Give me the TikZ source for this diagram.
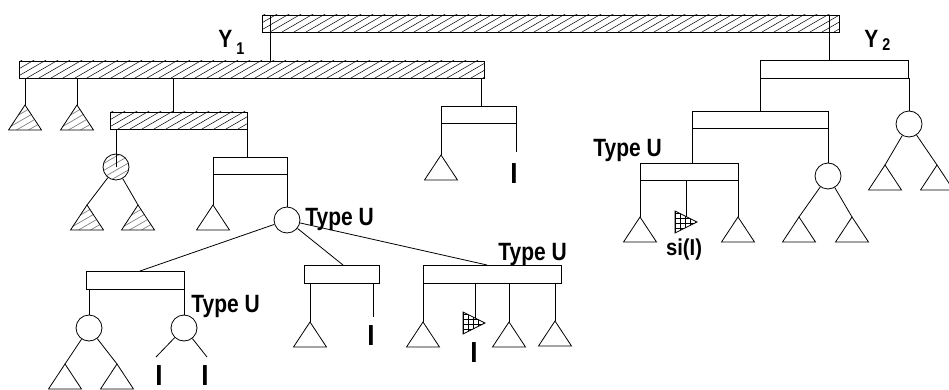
\documentclass[tikz,border=0pt]{standalone}
\usepackage{fontspec}
\setmainfont{Liberation Sans}
\usepackage{graphicx}
\usetikzlibrary{calc}
\newcommand{\tlab}[1]{\scalebox{0.84}[1]{\fontsize{25}{25}\selectfont\bfseries #1}}
\newcommand{\tsub}[1]{\scalebox{0.84}[1]{\fontsize{17}{17}\selectfont\bfseries #1}}
\newcommand{\tI}{\scalebox{0.9}[1]{\fontsize{29}{29}\selectfont\bfseries I}}
\newcommand{\tsi}{\scalebox{0.88}[1]{\fontsize{23}{23}\selectfont\bfseries si(I)}}
\newcommand{\mytri}[4][]{\coordinate (#2) at (#3,#4); \draw[#1] (#2) -- ++(-16.5,25) -- ++(33,0) -- cycle;}
\begin{document}
\begin{tikzpicture}[x=1pt,y=-1pt,line width=0.8pt,
  bx/.style={draw, rectangle, inner sep=0pt, minimum height=17pt},
  circ/.style={draw, circle, inner sep=0pt, minimum size=26pt},
  lbl/.style={inner sep=0pt, anchor=base west},
  ilbl/.style={inner sep=0pt, anchor=base},
  hatchbar/.style={path picture={\foreach \k in {-40,-28,...,600}{\draw[line width=0.5pt] ([xshift=\k pt]path picture bounding box.south west) -- ++(30:60pt);}}},
  hatchtri/.style={path picture={\foreach \k in {-40,-28,...,40}{\draw[line width=0.7pt, gray] ([xshift=\k pt]path picture bounding box.south west) -- ++(30:60pt);}}},
  xhatch/.style={path picture={\foreach \k in {0,5,...,30}{\draw[line width=0.5pt] ([xshift=\k pt]path picture bounding box.south west) -- ++(0pt,40pt); \draw[line width=0.5pt] ([yshift=\k pt]path picture bounding box.south west) -- ++(40pt,0pt);}}}
]
\useasboundingbox (0,0) rectangle (949,390);

% ---- bars and boxes
\node[bx, hatchbar, minimum width=577pt] (T0) at (550.5,23.5) {};
\node[bx, hatchbar, minimum width=465pt] (B1) at (251.5,69.5) {};
\node[bx, hatchbar, minimum width=137pt] (H2) at (178.5,120.5) {};
\node[bx, minimum width=75pt] (P1) at (478.5,114.5) {};
\node[bx, minimum width=74pt] (P2) at (250,165.5) {};
\node[bx, minimum width=98pt, minimum height=18pt] (BL) at (135,280) {};
\node[bx, minimum width=75pt, minimum height=18pt] (BM) at (341.5,274) {};
\node[bx, minimum width=138pt, minimum height=18pt] (BR) at (492,274) {};
\node[bx, minimum width=148pt, minimum height=18pt] (B2) at (834,69) {};
\node[bx, minimum width=136pt] (R2) at (760,119.5) {};
\node[bx, minimum width=98pt] (TU) at (689,171.5) {};

% ---- circles
\node[circ, hatchtri] (HC) at (116,167) {};
\node[circ] (CU1) at (287,220) {};
\node[circ] (C1) at (89,328) {};
\node[circ] (C2) at (184,328) {};
\node[circ] (CR) at (909,124) {};
\node[circ] (CR2) at (828,176) {};

% ---- triangles
\mytri[hatchtri]{ta}{25}{105}
\mytri[hatchtri]{tb}{77}{105}
\mytri[hatchtri]{th1}{87}{205}
\mytri[hatchtri]{th2}{138}{205}
\mytri{tp1}{441}{155}
\mytri{tp2}{213}{205}
\mytri{tc1}{65}{364}
\mytri{tc2}{117}{364}
\mytri{tm1}{310}{322}
\mytri{tr1}{423}{322}
\mytri{tr3}{509}{322}
\mytri{tr4}{555}{321}
\mytri{tu1}{640}{217}
\mytri{tu3}{738}{217}
\mytri{td1}{799}{217}
\mytri{td2}{852}{217}
\mytri{te1}{885}{165}
\mytri{te2}{937}{165}

% ---- crosshatched triangles
\draw[xhatch] (463,312) -- (463,334) -- (485,323) -- cycle;
\coordinate (xr) at (475,318);
\draw[xhatch] (675,211) -- (675,233) -- (697,222) -- cycle;
\coordinate (xu) at (686,216.5);

% ---- junction coordinates
\coordinate (j1) at (270,61);
\coordinate (j2) at (829,60);
\coordinate (j3) at (173,112);
\coordinate (j4) at (481,106);
\coordinate (j5) at (247,157);
\coordinate (j6) at (692,163);
\coordinate (k1) at (140,271);
\coordinate (k2) at (343,265);
\coordinate (k3) at (487,265);
\coordinate (e1) at (516,152);
\coordinate (e2) at (156,357);
\coordinate (e3) at (207,357);
\coordinate (e4) at (373,317);

% ---- connectors
\draw (j1 |- T0.north) -- (j1);
\draw (j2 |- T0.north) -- (j2);
\draw (ta) -- (ta |- B1.south);
\draw (tb) -- (tb |- B1.south);
\draw (j3 |- B1.south) -- (j3);
\draw (j4 |- B1.south) -- (j4);
\draw (HC.center) -- (HC.center |- H2.south);
\draw (j5 |- H2.south) -- (j5);
\draw (HC) -- (th1);
\draw (HC) -- (th2);
\draw (tp1) -- (tp1 |- P1.south);
\draw (e1) -- (e1 |- P1.south);
\draw (tp2) -- (tp2 |- P2.south);
\draw (CU1) -- (CU1 |- P2.south);
\draw (CU1) -- (k1);
\draw (CU1) -- (k2);
\draw (CU1) -- (k3);
\draw (C1) -- (C1 |- BL.south);
\draw (C2) -- (C2 |- BL.south);
\draw (C1) -- (tc1);
\draw (C1) -- (tc2);
\draw (C2) -- (e2);
\draw (C2) -- (e3);
\draw (tm1) -- (tm1 |- BM.south);
\draw (e4) -- (e4 |- BM.south);
\draw (tr1) -- (tr1 |- BR.south);
\draw (xr) -- (xr |- BR.south);
\draw (tr3) -- (tr3 |- BR.south);
\draw (tr4) -- (tr4 |- BR.south);
\draw (R2.north) -- (R2.north |- B2.south);
\draw (CR) -- (CR |- B2.south);
\draw (CR) -- (te1);
\draw (CR) -- (te2);
\draw (j6 |- R2.south) -- (j6);
\draw (CR2) -- (CR2 |- R2.south);
\draw (CR2) -- (td1);
\draw (CR2) -- (td2);
\draw (tu1) -- (tu1 |- TU.south);
\draw (xu) -- (xu |- TU.south);
\draw (tu3) -- (tu3 |- TU.south);

% ---- labels
\node[lbl] (y1) at (218,48) {\tlab{Y}};
\node[lbl] (y1s) at (236,55) {\tsub{1}};
\node[lbl] (y2) at (864,48) {\tlab{Y}};
\node[lbl] (y2s) at (882,51) {\tsub{2}};
\node[lbl] (u1) at (305,225) {\tlab{Type U}};
\node[lbl] (u2) at (498,260) {\tlab{Type U}};
\node[lbl] (u3) at (191,312) {\tlab{Type U}};
\node[lbl] (u4) at (593,157) {\tlab{Type U}};
\node[ilbl] (si) at (684,255) {\tsi};
\node[ilbl] (i1) at (514,183) {\tI};
\node[ilbl] (i2) at (159,385) {\tI};
\node[ilbl] (i3) at (205,385) {\tI};
\node[ilbl] (i4) at (371,345) {\tI};
\node[ilbl] (i5) at (474,362) {\tI};
\end{tikzpicture}
\end{document}
